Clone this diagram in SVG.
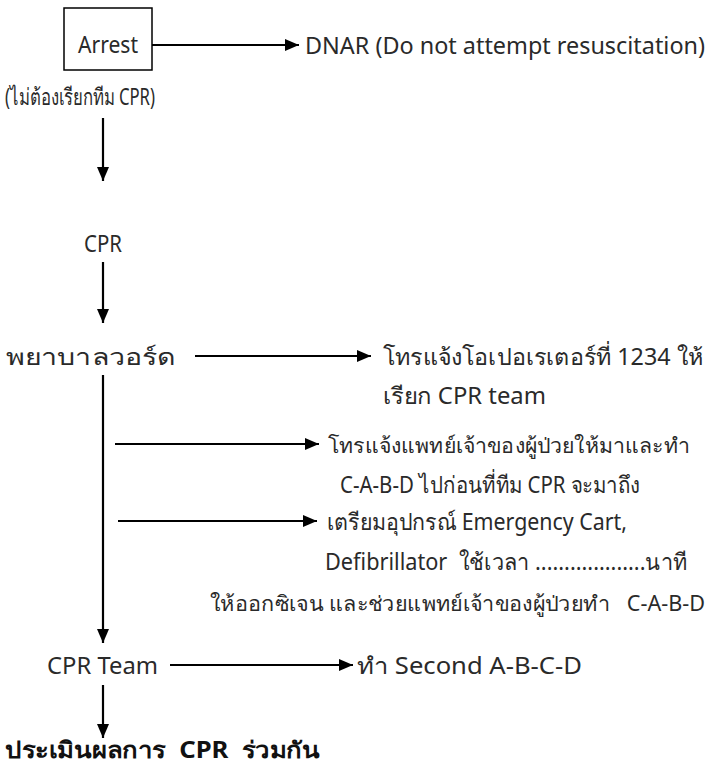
<svg xmlns="http://www.w3.org/2000/svg" width="711" height="771" viewBox="0 0 711 771">
<defs>
<marker id="ah" viewBox="0 0 14 12" refX="14" refY="6" markerWidth="14" markerHeight="12" markerUnits="userSpaceOnUse" orient="auto">
<path d="M0,0 L14,6 L0,12 Z" fill="#000"/>
</marker>
<style>
text{font-family:"Noto Sans","Liberation Sans","DejaVu Sans",sans-serif;font-size:23px;fill:#2a2a2a;white-space:pre;}
.s{font-size:21px;}
.b{font-weight:bold;fill:#111;}
.c{stroke:#000;stroke-width:2.2;fill:none;marker-end:url(#ah);}
</style>
</defs>
<rect width="711" height="771" fill="#fff"/>
<g id="arrest">
<rect x="64" y="8" width="88" height="62" fill="#fff" stroke="#000" stroke-width="1.5"/>
<text x="108" y="53" text-anchor="middle" textLength="60" lengthAdjust="spacingAndGlyphs">Arrest</text>
</g>
<g id="dnar"><text x="305" y="54" textLength="400" lengthAdjust="spacingAndGlyphs">DNAR (Do not attempt resuscitation)</text></g>
<g id="note"><text x="5" y="105" textLength="150" lengthAdjust="spacingAndGlyphs">(ไม่ต้องเรียกทีม CPR)</text></g>
<g id="cpr"><text x="103" y="252" text-anchor="middle" textLength="38" lengthAdjust="spacingAndGlyphs">CPR</text></g>
<g id="nurse"><text x="6" y="365" textLength="170" lengthAdjust="spacingAndGlyphs">พยาบาลวอร์ด</text></g>
<g id="call-op"><text x="383" y="365" textLength="320" lengthAdjust="spacingAndGlyphs">โทรแจ้งโอเปอเรเตอร์ที่ 1234 ให้</text>
<text x="383" y="404" textLength="163" lengthAdjust="spacingAndGlyphs">เรียก CPR team</text></g>
<g id="call-doc"><text class="s" x="328" y="453" textLength="362" lengthAdjust="spacingAndGlyphs">โทรแจ้งแพทย์เจ้าของผู้ป่วยให้มาและทำ</text>
<text x="340" y="493" textLength="300" lengthAdjust="spacingAndGlyphs">C-A-B-D ไปก่อนที่ทีม CPR จะมาถึง</text></g>
<g id="prep"><text x="327" y="530" textLength="300" lengthAdjust="spacingAndGlyphs">เตรียมอุปกรณ์ Emergency Cart,</text>
<text x="325" y="570" textLength="362" lengthAdjust="spacingAndGlyphs">Defibrillator  ใช้เวลา ...................นาที</text>
<text class="s" x="210" y="611" textLength="495" lengthAdjust="spacingAndGlyphs">ให้ออกซิเจน และช่วยแพทย์เจ้าของผู้ป่วยทำ   C-A-B-D</text></g>
<g id="team"><text x="47" y="674" textLength="111" lengthAdjust="spacingAndGlyphs">CPR Team</text></g>
<g id="second"><text x="357" y="674" textLength="225" lengthAdjust="spacingAndGlyphs">ทำ Second A-B-C-D</text></g>
<g id="eval"><text class="b" x="5" y="758" textLength="315" lengthAdjust="spacingAndGlyphs">ประเมินผลการ  CPR  ร่วมกัน</text></g>
<g id="connectors">
<line class="c" x1="152" y1="45" x2="299" y2="45"/>
<line class="c" x1="103" y1="118" x2="103" y2="181"/>
<line class="c" x1="103" y1="262" x2="103" y2="323"/>
<line class="c" x1="195" y1="356" x2="371" y2="356"/>
<line class="c" x1="103" y1="375" x2="103" y2="643"/>
<line class="c" x1="115" y1="444" x2="319" y2="444"/>
<line class="c" x1="118" y1="521" x2="317" y2="521"/>
<line class="c" x1="170" y1="665" x2="353" y2="665"/>
<line class="c" x1="103" y1="685" x2="103" y2="738"/>
</g>
</svg>
